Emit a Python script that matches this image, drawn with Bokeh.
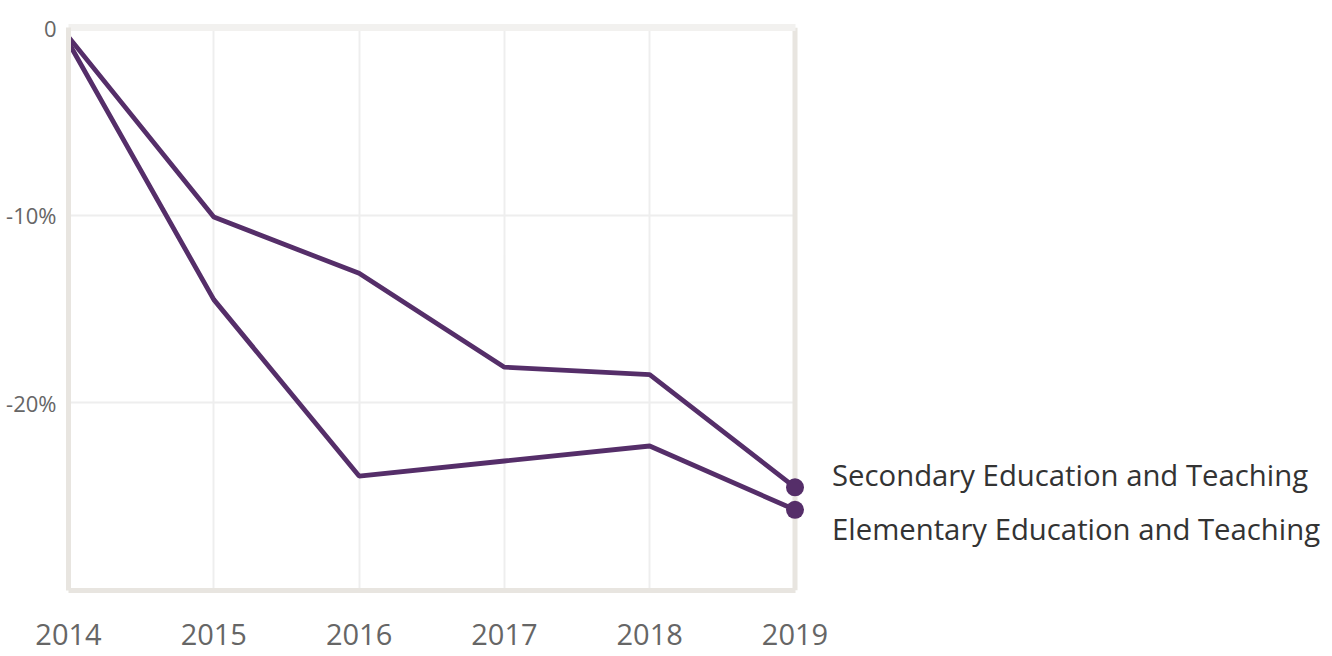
from bokeh.plotting import figure
from bokeh.models import Span, FixedTicker, ColumnDataSource, LinearAxis
from bokeh.core.properties import value
from bokeh.embed import file_html
from bokeh.resources import INLINE

years = [2014, 2015, 2016, 2017, 2018, 2019]
secondary = [-0.5, -10.1, -13.1, -18.1, -18.5, -24.5]
elementary = [-0.8, -14.5, -23.9, -23.1, -22.3, -25.7]
series_names = ["Secondary Education and Teaching", "Elementary Education and Teaching"]
y_ticks = [0, -10, -20]
y_tick_labels = {0: "0", -10: "-10%", -20: "-20%"}

LINE = "#552e69"
FONT = "Open Sans"

W, H = 1332, 656
LEFT, TOP, BOTTOM = 68, 27, 66
PX_PER_YEAR = 145.3
x_end = years[0] + (W - LEFT) / PX_PER_YEAR

p = figure(width=W, height=H, x_range=(years[0], x_end), y_range=(-30, 0),
           output_backend="svg", toolbar_location=None,
           min_border_left=LEFT, min_border_right=0, min_border_top=TOP, min_border_bottom=BOTTOM)
p.outline_line_color = None
p.background_fill_color = "white"
p.border_fill_color = "white"

bottom_axis = p.below[0]
left_axis = p.left[0]

# grid
p.xgrid.ticker = FixedTicker(ticks=years[1:-1])
p.xgrid.grid_line_color = "#eeeeee"
p.xgrid.grid_line_width = 2
p.ygrid.ticker = FixedTicker(ticks=[-10, -20])
p.ygrid.grid_line_color = "#eeeeee"
p.ygrid.grid_line_width = 2
p.ygrid.cross_bounds = (years[0], years[-1])

# axes
bottom_axis.ticker = FixedTicker(ticks=years)
bottom_axis.bounds = (years[0], years[-1])
left_axis.ticker = FixedTicker(ticks=y_ticks)
left_axis.major_label_overrides = y_tick_labels
for ax in (bottom_axis, left_axis):
    ax.axis_line_color = "#e8e5e0"
    ax.axis_line_width = 5
    ax.major_tick_line_color = None
    ax.minor_tick_line_color = None
    ax.major_label_text_font = FONT
    ax.major_label_text_color = "#666666"
bottom_axis.major_label_text_font_size = "29px"
bottom_axis.major_label_standoff = 27
left_axis.major_label_text_font_size = "22px"
left_axis.major_label_standoff = 6

# top frame line (the zero line), an axis without ticks or labels
top_axis = LinearAxis(ticker=FixedTicker(ticks=[]), bounds=(years[0], years[-1]),
                      axis_line_color="#f2f1ef", axis_line_width=7,
                      major_tick_line_color=None, minor_tick_line_color=None)
p.add_layout(top_axis, "above")

p.add_layout(Span(location=years[-1], dimension="height", line_color="#e8e5e0",
                  line_width=5, level="underlay"))

for vals in (secondary, elementary):
    p.line(years, vals, line_color=LINE, line_width=4.8)

end_src = ColumnDataSource(dict(
    x=[years[-1], years[-1]],
    y=[secondary[-1], elementary[-1]],
    label=series_names,
    yoff=[-12, 19],
))
p.scatter("x", "y", source=end_src, size=18, fill_color=LINE, line_color=None)
p.text("x", "y", text="label", source=end_src, x_offset=37, y_offset="yoff",
       text_font=value(FONT), text_font_size="29.3px", text_color="#333333",
       text_baseline="middle", text_align="left")

open("out.html", "w").write(file_html(p, INLINE))
